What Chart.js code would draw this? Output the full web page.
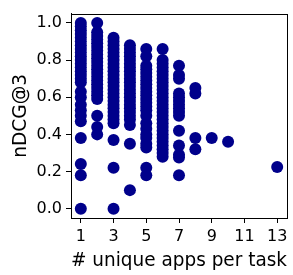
<!DOCTYPE html>
<html>
<head>
<meta charset="utf-8">
<script src="https://cdn.jsdelivr.net/npm/chart.js@4.4.0/dist/chart.umd.min.js"></script>
<style>
  html, body { margin: 0; padding: 0; background: #fff; }
</style>
</head>
<body>
<canvas id="scatter" width="293" height="275"></canvas>
<script>
// nDCG@3 per task, grouped by number of unique apps in the task
const appCounts = [1, 2, 3, 4, 5, 6, 7, 8, 9, 10, 13];
const ndcg1 = [1.0, 0.98, 0.96, 0.94, 0.92, 0.9, 0.88, 0.86, 0.84, 0.82, 0.8, 0.78, 0.76, 0.74, 0.72, 0.7, 0.68, 0.63, 0.6, 0.56, 0.53, 0.5, 0.47, 0.38, 0.24, 0.18, 0.0];
const ndcg2 = [1.0, 0.95, 0.93, 0.91, 0.89, 0.87, 0.85, 0.83, 0.81, 0.79, 0.77, 0.75, 0.73, 0.71, 0.69, 0.67, 0.65, 0.63, 0.61, 0.59, 0.5, 0.44, 0.4];
const ndcg3 = [0.92, 0.9, 0.88, 0.86, 0.84, 0.82, 0.8, 0.78, 0.76, 0.74, 0.72, 0.7, 0.68, 0.66, 0.64, 0.62, 0.6, 0.58, 0.56, 0.54, 0.52, 0.5, 0.48, 0.46, 0.37, 0.22, 0.0];
const ndcg4 = [0.88, 0.86, 0.84, 0.82, 0.8, 0.78, 0.76, 0.74, 0.72, 0.7, 0.68, 0.66, 0.64, 0.62, 0.6, 0.58, 0.56, 0.54, 0.52, 0.5, 0.48, 0.45, 0.35, 0.1];
const ndcg5 = [0.86, 0.82, 0.77, 0.75, 0.73, 0.71, 0.69, 0.67, 0.65, 0.63, 0.61, 0.59, 0.57, 0.55, 0.53, 0.5, 0.46, 0.43, 0.4, 0.38, 0.35, 0.33, 0.22, 0.18];
const ndcg6 = [0.86, 0.8, 0.78, 0.76, 0.74, 0.72, 0.7, 0.68, 0.66, 0.64, 0.62, 0.6, 0.58, 0.56, 0.54, 0.52, 0.5, 0.48, 0.46, 0.44, 0.42, 0.4, 0.38, 0.36, 0.34, 0.32, 0.3, 0.28];
const ndcg7 = [0.77, 0.72, 0.7, 0.62, 0.6, 0.58, 0.56, 0.54, 0.52, 0.5, 0.42, 0.34, 0.29, 0.275, 0.18];
const ndcg8 = [0.65, 0.62, 0.38, 0.32];
const ndcg9 = [0.38];
const ndcg10 = [0.36];
const ndcg13 = [0.225];
const xTicks = [1, 3, 5, 7, 9, 11, 13];
const yTicks = [0.0, 0.2, 0.4, 0.6, 0.8, 1.0];

const groups = [ndcg1, ndcg2, ndcg3, ndcg4, ndcg5, ndcg6, ndcg7, ndcg8, ndcg9, ndcg10, ndcg13];
const points = [];
groups.forEach((vals, i) => {
	vals.forEach(v => points.push({ x: appCounts[i], y: v }));
});

const font = "'DejaVu Sans', sans-serif";

// matplotlib style frame round the plot area
const frame = {
	id: 'frame',
	afterDraw(chart) {
		const a = chart.chartArea;
		const ctx = chart.ctx;
		ctx.save();
		ctx.strokeStyle = '#000';
		ctx.lineWidth = 1;
		ctx.strokeRect(Math.round(a.left) + 0.5, Math.round(a.top) + 0.5, Math.round(a.right - a.left), Math.round(a.bottom - a.top));
		ctx.restore();
	}
};

new Chart(document.getElementById('scatter'), {
	type: 'scatter',
	data: {
		datasets: [{
			data: points,
			backgroundColor: '#00008b',
			borderColor: '#00008b',
			borderWidth: 0,
			pointRadius: 6,
			pointHoverRadius: 6
		}]
	},
	options: {
		responsive: false,
		animation: false,
		devicePixelRatio: 1,
		layout: { padding: { left: 0, right: 2, top: 3, bottom: 0 } },
		plugins: { legend: { display: false }, tooltip: { enabled: false } },
		scales: {
			x: {
				type: 'linear',
				min: 0.4,
				max: 13.6,
				afterBuildTicks: s => { s.ticks = xTicks.map(v => ({ value: v })); },
				afterFit: s => { s.height = 57; },
				grid: { drawOnChartArea: false, tickLength: 5, color: '#000' },
				border: { color: '#000' },
				ticks: { color: '#000', font: { family: font, size: 16 }, padding: 4, maxRotation: 0 },
				title: { display: true, text: '# unique apps per task', color: '#000', font: { family: font, size: 18.6 }, padding: { top: 0, bottom: 3 } }
			},
			y: {
				min: -0.05,
				max: 1.05,
				afterBuildTicks: s => { s.ticks = yTicks.map(v => ({ value: v })); },
				afterFit: s => { s.width = 71; },
				grid: { drawOnChartArea: false, tickLength: 5, color: '#000' },
				border: { color: '#000' },
				ticks: { color: '#000', font: { family: font, size: 16 }, padding: 4, callback: v => v.toFixed(1) },
				title: { display: true, text: 'nDCG@3', color: '#000', font: { family: font, size: 18.6 }, padding: { top: 10, bottom: 0 } }
			}
		}
	},
	plugins: [frame]
});
</script>
</body>
</html>
